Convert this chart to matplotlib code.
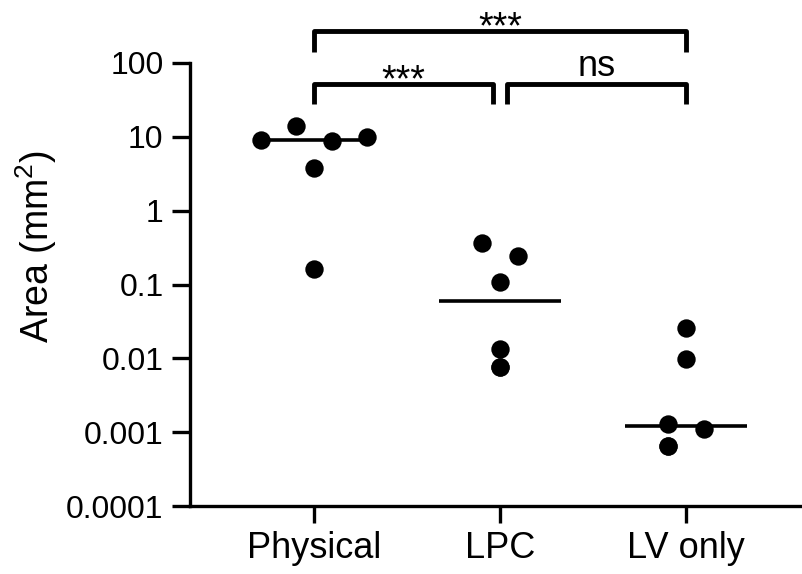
import numpy as np
import matplotlib
matplotlib.use("Agg")
import matplotlib.pyplot as plt
from matplotlib import transforms

plt.rcParams['font.family'] = ['Liberation Sans', 'DejaVu Sans']
plt.rcParams['mathtext.fontset'] = 'custom'
plt.rcParams['mathtext.rm'] = 'Liberation Sans'
plt.rcParams['mathtext.it'] = 'Liberation Sans:italic'

# data (mm^2)
groups = ["Physical", "LPC", "LV only"]
physical = [9.1, 14.2, 8.9, 10.1, 3.8, 0.16]
lpc = [0.37, 0.24, 0.107, 0.0134, 0.0076, 0.0076]
lv_only = [0.0256, 0.0097, 0.0013, 0.0011, 0.00064, 0.00064]
yticks = [0.0001, 0.001, 0.01, 0.1, 1, 10, 100]
ytick_labels = ["0.0001", "0.001", "0.01", "0.1", "1", "10", "100"]

# horizontal slots used to keep touching dots apart (scatter layout)
slots = [[-3, -1, 1, 3, 0, 0],
         [-1, 1, 0, 0, 0, 0],
         [0, 0, -1, 1, -1, -1]]
slot_w = 0.0955

# comparisons: (left group, right group, label, level)
comparisons = [(0, 1, "***", 0), (1, 2, "ns", 0), (0, 2, "***", 1)]

fig = plt.figure(figsize=(8.02, 5.74), dpi=100)
ax = fig.add_axes([190/802, 1-506/574, 610/802, 443/574])

for i, vals in enumerate([physical, lpc, lv_only]):
    xs = i + np.array(slots[i]) * slot_w
    ax.scatter(xs, vals, s=175, color='black', zorder=3, linewidths=0)
    med = np.median(vals)
    ax.plot([i-0.33, i+0.33], [med, med], color='black', lw=2.6, zorder=2,
            solid_capstyle='butt')

ax.set_yscale('log')
ax.set_ylim(1e-4, 100)
ax.set_xlim(-0.667, 2.613)
ax.set_yticks(yticks)
ax.set_yticklabels(ytick_labels)
ax.minorticks_off()
ax.set_xticks(range(3))
ax.set_xticklabels(groups)
ax.tick_params(axis='y', labelsize=23, length=13, width=2.4, pad=6)
ax.tick_params(axis='x', labelsize=26, length=12, width=2.4, pad=6)
for sp in ['top', 'right']:
    ax.spines[sp].set_visible(False)
for sp in ['left', 'bottom']:
    ax.spines[sp].set_linewidth(2.4)
ax.set_ylabel("Area (mm$^2$)", fontsize=27)
ax.yaxis.set_label_coords(-0.215, 0.585)

# significance brackets
trans = transforms.blended_transform_factory(ax.transData, ax.transAxes)
levels = [(0.9526, 0.9074), (1.0722, 1.0248)]
gap = 0.04
for a, b, lab, lev in comparisons:
    top, bot = levels[lev]
    x0, x1 = a, b
    if lev == 0:
        x0 = a + (gap if a == 1 else 0)
        x1 = b - (gap if b == 1 else 0)
    ax.plot([x0, x0, x1, x1], [bot, top, top, bot], color='black', lw=3.5,
            transform=trans, clip_on=False, solid_joinstyle='round',
            solid_capstyle='butt')
    if lab == "ns":
        ax.text((x0+x1)/2, top + 0.018, lab, fontsize=26, ha='center',
                va='baseline', transform=trans)
    else:
        ax.text((x0+x1)/2, top - 0.017, lab, fontsize=27, ha='center',
                va='baseline', transform=trans)

fig.savefig("out.png", dpi=100)
